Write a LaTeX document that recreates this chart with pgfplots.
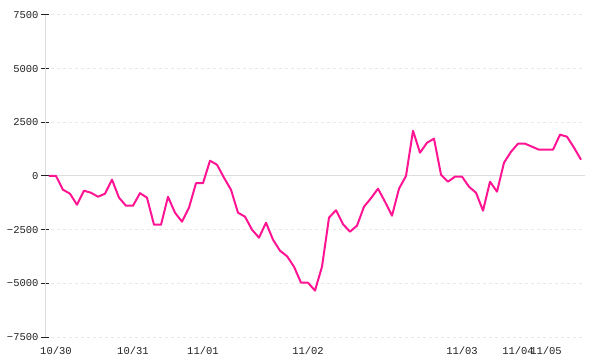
\documentclass[border=0pt]{standalone}
\usepackage{pgfplots}
\pgfplotsset{compat=1.18}
\usepackage{fontspec}
\setmainfont{Liberation Mono}
\definecolor{linepink}{HTML}{FF1493}
\definecolor{gridgray}{HTML}{E8E8E8}
\definecolor{axgray}{HTML}{DDDDDD}
\definecolor{txt}{HTML}{222222}
\begin{document}
\begin{tikzpicture}
\path[use as bounding box] (0,0) rectangle (600bp,360bp);
\begin{axis}[
  at={(45bp,23bp)}, anchor=south west, scale only axis,
  width=540bp, height=322bp,
  xmin=-0.57, xmax=76.57, ymin=-7500, ymax=7500,
  axis y line=left, axis x line=bottom,
  x axis line style={draw=none},
  y axis line style={draw=axgray, line width=1bp, -},
  ytick={-7500,-5000,-2500,0,2500,5000,7500},
  yticklabels={−7500,−5000,−2500,0,2500,5000,7500},
  ymajorgrids,
  major grid style={draw=gridgray, dash pattern=on 3bp off 3bp, line width=1bp},
  xtick={1,12,22,37,59,67,71},
  xticklabels={10/30,10/31,11/01,11/02,11/03,11/04,11/05},
  x tick style={draw=none},
  y tick style={draw=txt, line width=1bp},
  tick align=center, major tick length=8bp,
  ticklabel style={font=\fontsize{10.5bp}{12bp}\selectfont, text=txt},
  yticklabel style={xshift=1bp},
  xticklabel style={yshift=-2bp},
  extra y ticks={0},
  extra y tick labels={},
  extra y tick style={grid=major, major grid style={solid, draw=axgray, line width=1bp}},
]
\addplot[linepink, line width=2bp, line join=round] coordinates {
(0,0) (1,0) (2,-640) (3,-825) (4,-1340) (5,-685) (6,-780) (7,-965) (8,-825) (9,-170)
(10,-1010) (11,-1385) (12,-1385) (13,-800) (14,-1010) (15,-2270) (16,-2270) (17,-965) (18,-1710) (19,-2130)
(20,-1475) (21,-335) (22,-335) (23,713) (24,526) (25,-80) (26,-640) (27,-1710) (28,-1895) (29,-2500)
(30,-2875) (31,-2175) (32,-2965) (33,-3480) (34,-3735) (35,-4225) (36,-4970) (37,-4970) (38,-5340) (39,-4225)
(40,-1940) (41,-1595) (42,-2245) (43,-2595) (44,-2315) (45,-1430) (46,-1035) (47,-590) (48,-1200) (49,-1850)
(50,-590) (51,0) (52,2110) (53,1085) (54,1550) (55,1740) (56,60) (57,-265) (58,-30) (59,-30)
(60,-500) (61,-780) (62,-1615) (63,-265) (64,-730) (65,620) (66,1130) (67,1505) (68,1505) (69,1365)
(70,1225) (71,1225) (72,1225) (73,1925) (74,1830) (75,1320) (76,760)
};
\end{axis}
\end{tikzpicture}
\end{document}
